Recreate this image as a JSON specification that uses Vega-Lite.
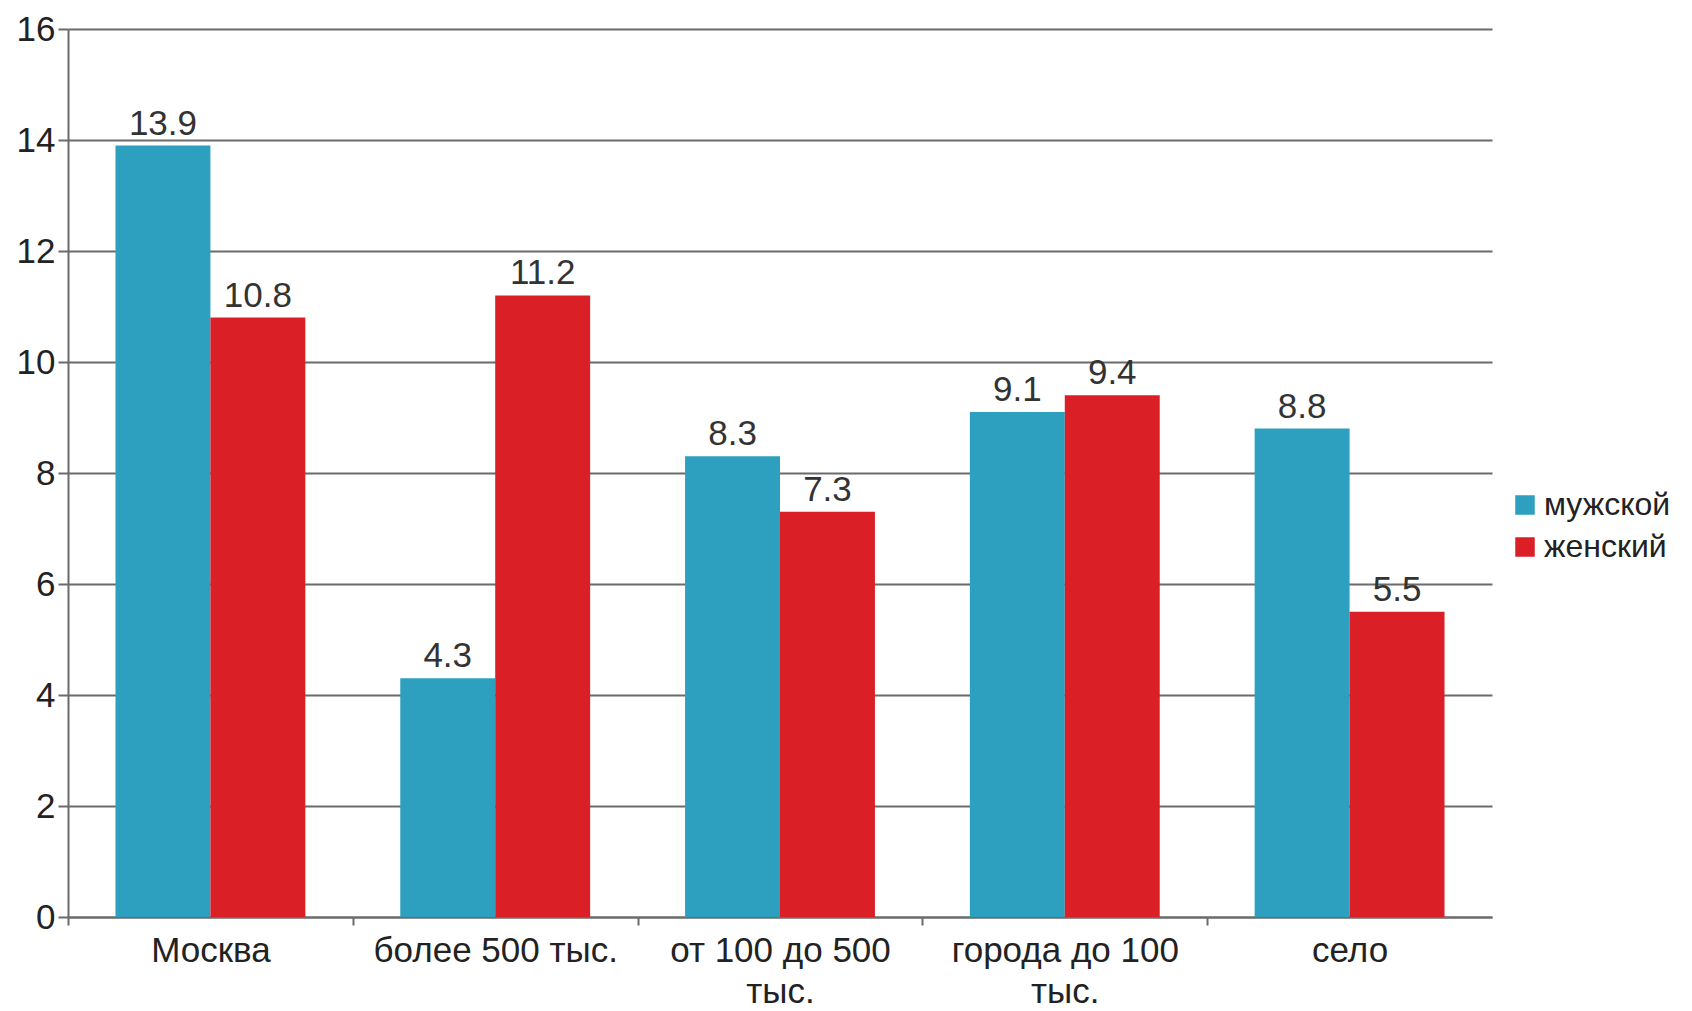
{
  "$schema": "https://vega.github.io/schema/vega-lite/v6.json",
  "width": 1424,
  "height": 888,
  "autosize": {"type": "none"},
  "padding": {"left": 68, "top": 29, "right": 200, "bottom": 94},
  "background": "white",
  "config": {"view": {"stroke": null}, "font": "Liberation Sans"},
  "data": {
    "values": [
      {"place": "Москва", "sex": "мужской", "value": 13.9},
      {"place": "Москва", "sex": "женский", "value": 10.8},
      {"place": "более 500 тыс.", "sex": "мужской", "value": 4.3},
      {"place": "более 500 тыс.", "sex": "женский", "value": 11.2},
      {"place": "от 100 до 500 тыс.", "sex": "мужской", "value": 8.3},
      {"place": "от 100 до 500 тыс.", "sex": "женский", "value": 7.3},
      {"place": "города до 100 тыс.", "sex": "мужской", "value": 9.1},
      {"place": "города до 100 тыс.", "sex": "женский", "value": 9.4},
      {"place": "село", "sex": "мужской", "value": 8.8},
      {"place": "село", "sex": "женский", "value": 5.5}
    ]
  },
  "encoding": {
    "x": {
      "field": "place",
      "type": "nominal",
      "sort": ["Москва", "более 500 тыс.", "от 100 до 500 тыс.", "города до 100 тыс.", "село"],
      "scale": {"paddingInner": 0.3333, "paddingOuter": 0.1667},
      "axis": {
        "title": null,
        "labelAngle": 0,
        "labelFontSize": 35,
        "labelLimit": 0,
        "labelColor": "#222222",
        "labelExpr": "datum.label == 'от 100 до 500 тыс.' ? ['от 100 до 500', 'тыс.'] : datum.label == 'города до 100 тыс.' ? ['города до 100', 'тыс.'] : datum.label",
        "labelLineHeight": 41,
        "labelPadding": 8,
        "bandPosition": 0.5,
        "tickOffset": -142.4,
        "labelOffset": 142.4,
        "tickSize": 8,
        "tickWidth": 2,
        "tickColor": "#6b6b6b",
        "domainColor": "#6b6b6b",
        "domainWidth": 2
      }
    },
    "xOffset": {"field": "sex", "type": "nominal", "sort": ["мужской", "женский"]},
    "y": {
      "field": "value",
      "type": "quantitative",
      "scale": {"domain": [0, 16], "nice": false},
      "axis": {
        "title": null,
        "values": [0, 2, 4, 6, 8, 10, 12, 14, 16],
        "grid": true,
        "gridColor": "#6b6b6b",
        "gridWidth": 2,
        "gridOpacity": 1,
        "domainColor": "#6b6b6b",
        "domainWidth": 2,
        "tickColor": "#6b6b6b",
        "tickWidth": 2,
        "tickSize": 10,
        "labelFontSize": 35,
        "labelColor": "#222222",
        "labelPadding": 3
      }
    }
  },
  "layer": [
    {
      "mark": {"type": "bar"},
      "encoding": {
        "color": {
          "field": "sex",
          "type": "nominal",
          "sort": ["мужской", "женский"],
          "scale": {"domain": ["мужской", "женский"], "range": ["#2ca0be", "#da1f27"]},
          "legend": {
            "title": null,
            "orient": "none",
            "legendX": 1441,
            "legendY": 460,
            "symbolType": "square",
            "symbolSize": 380,
            "symbolStrokeWidth": 0,
            "labelFontSize": 32,
            "labelLimit": 0,
            "labelColor": "#222222",
            "labelOffset": 3,
            "rowPadding": 10
          }
        }
      }
    },
    {
      "mark": {"type": "text", "baseline": "bottom", "dy": -4, "fontSize": 35, "color": "#333333"},
      "encoding": {"text": {"field": "value", "type": "quantitative", "format": ".1f"}}
    }
  ]
}
